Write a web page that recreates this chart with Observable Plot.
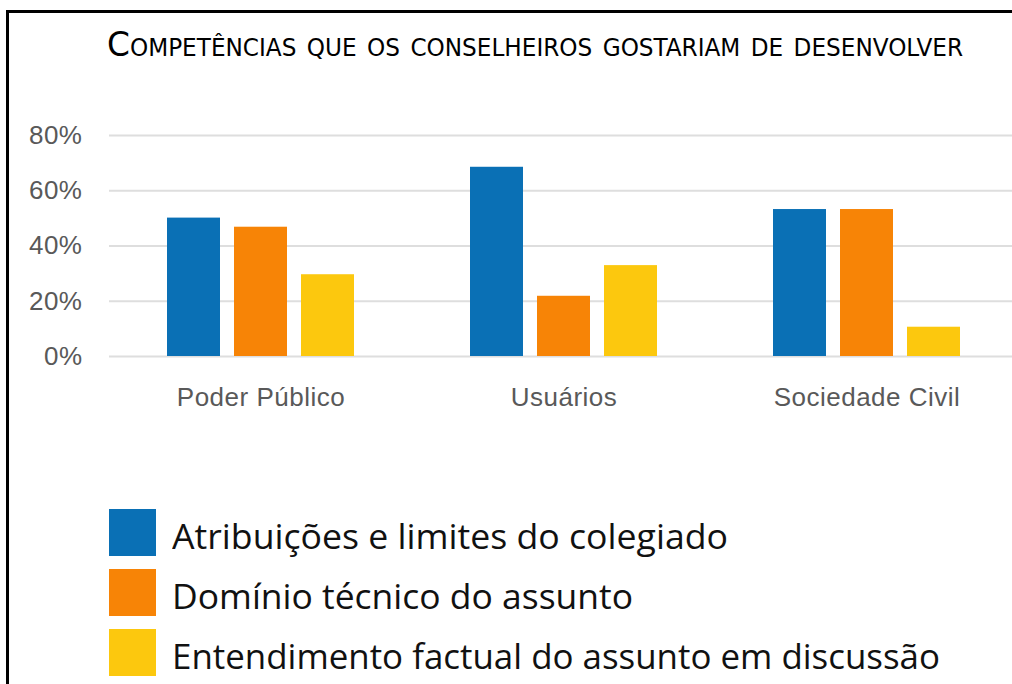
<!DOCTYPE html>
<html>
<head>
<meta charset="utf-8">
<script src="https://cdn.jsdelivr.net/npm/d3@7"></script>
<script src="https://cdn.jsdelivr.net/npm/@observablehq/plot@0.6"></script>
<style>
  html, body { margin: 0; padding: 0; background: #fff; overflow: hidden; }
  #page { position: relative; width: 1012px; height: 684px; overflow: hidden; }
  #frame { position: absolute; left: 6px; top: 10px; width: 1020px; height: 700px;
           border-left: 3px solid #000; border-top: 3px solid #000; box-sizing: border-box; }
  #title { position: absolute; left: 107px; top: 24px; white-space: nowrap;
           font-family: "DejaVu Sans Condensed", "DejaVu Sans", sans-serif; font-size: 34px;
           font-variant: small-caps; color: #000; transform-origin: 0 0; }
  #chart { position: absolute; left: 0; top: 0; width: 1030px; }
  #chart svg { max-width: none !important; }
  #legend { position: absolute; left: 109px; top: 509px; }
  .item { position: absolute; left: 0; height: 47px; white-space: nowrap; }
  .sw { position: absolute; left: 0; top: 0; width: 47px; height: 47px; }
  .lab { position: absolute; left: 63px; top: 2px; font-family: "Open Sans", sans-serif;
         font-size: 35px; line-height: 50px; color: #111; transform-origin: 0 50%; }
</style>
</head>
<body>
<div id="page">
  <div id="chart"></div>
  <div id="frame"></div>
  <div id="title">Competências que os conselheiros gostariam de desenvolver</div>
  <div id="legend"></div>
</div>
<script>
const categories = ["Poder Público", "Usuários", "Sociedade Civil"];
const series = ["Atribuições e limites do colegiado", "Domínio técnico do assunto", "Entendimento factual do assunto em discussão"];
const atribuicoes = [50.1, 68.5, 53.2];
const dominio = [46.8, 21.8, 53.2];
const entendimento = [29.6, 32.9, 10.6];
const colors = ["#0a70b5", "#f78406", "#fcc80e"];
const yTicks = [0, 20, 40, 60, 80];

const valuesBySeries = [atribuicoes, dominio, entendimento];
const data = [];
categories.forEach((c, i) => {
  series.forEach((s, j) => data.push({category: c, series: s, value: valuesBySeries[j][i]}));
});

const chart = Plot.plot({
  width: 1020, height: 420,
  marginTop: 135, marginBottom: 64, marginLeft: 109, marginRight: 2,
  style: {fontFamily: "Liberation Sans, Arial, sans-serif", fontSize: "26px", letterSpacing: "0.5px",
          color: "#595959", background: "transparent", maxWidth: "none"},
  fx: {domain: categories, padding: 0, label: null, axis: "bottom", tickSize: 0, tickPadding: 31},
  x: {domain: series, axis: null, paddingInner: 0.209, paddingOuter: 0.853},
  y: {domain: [0, 80], ticks: yTicks, tickFormat: d => d + "%", label: null, tickSize: 0, tickPadding: 27},
  color: {domain: series, range: colors},
  marks: [
    Plot.gridY(yTicks, {stroke: "#dedede", strokeOpacity: 1, strokeWidth: 2}),
    Plot.barY(data, {fx: "category", x: "series", y: "value", fill: "series"})
  ]
});
chart.style.maxWidth = "none";
document.getElementById("chart").appendChild(chart);

// legend
const legend = document.getElementById("legend");
const tops = [0, 60, 120];
const targetWidths = [556, 461, 768];
const labs = [];
series.forEach((s, i) => {
  const item = document.createElement("div");
  item.className = "item";
  item.style.top = tops[i] + "px";
  const sw = document.createElement("div");
  sw.className = "sw";
  sw.style.background = colors[i];
  const lab = document.createElement("div");
  lab.className = "lab";
  lab.textContent = s;
  item.appendChild(sw); item.appendChild(lab);
  legend.appendChild(item);
  labs.push(lab);
});
// condense legend text to match the narrow typeface of the original
labs.forEach((l, i) => {
  const w = l.getBoundingClientRect().width;
  l.style.transform = `scaleX(${targetWidths[i] / w})`;
});
// fit title width
const t = document.getElementById("title");
const tw = t.getBoundingClientRect().width;
t.style.transform = `scaleX(${856 / tw})`;
</script>
</body>
</html>
